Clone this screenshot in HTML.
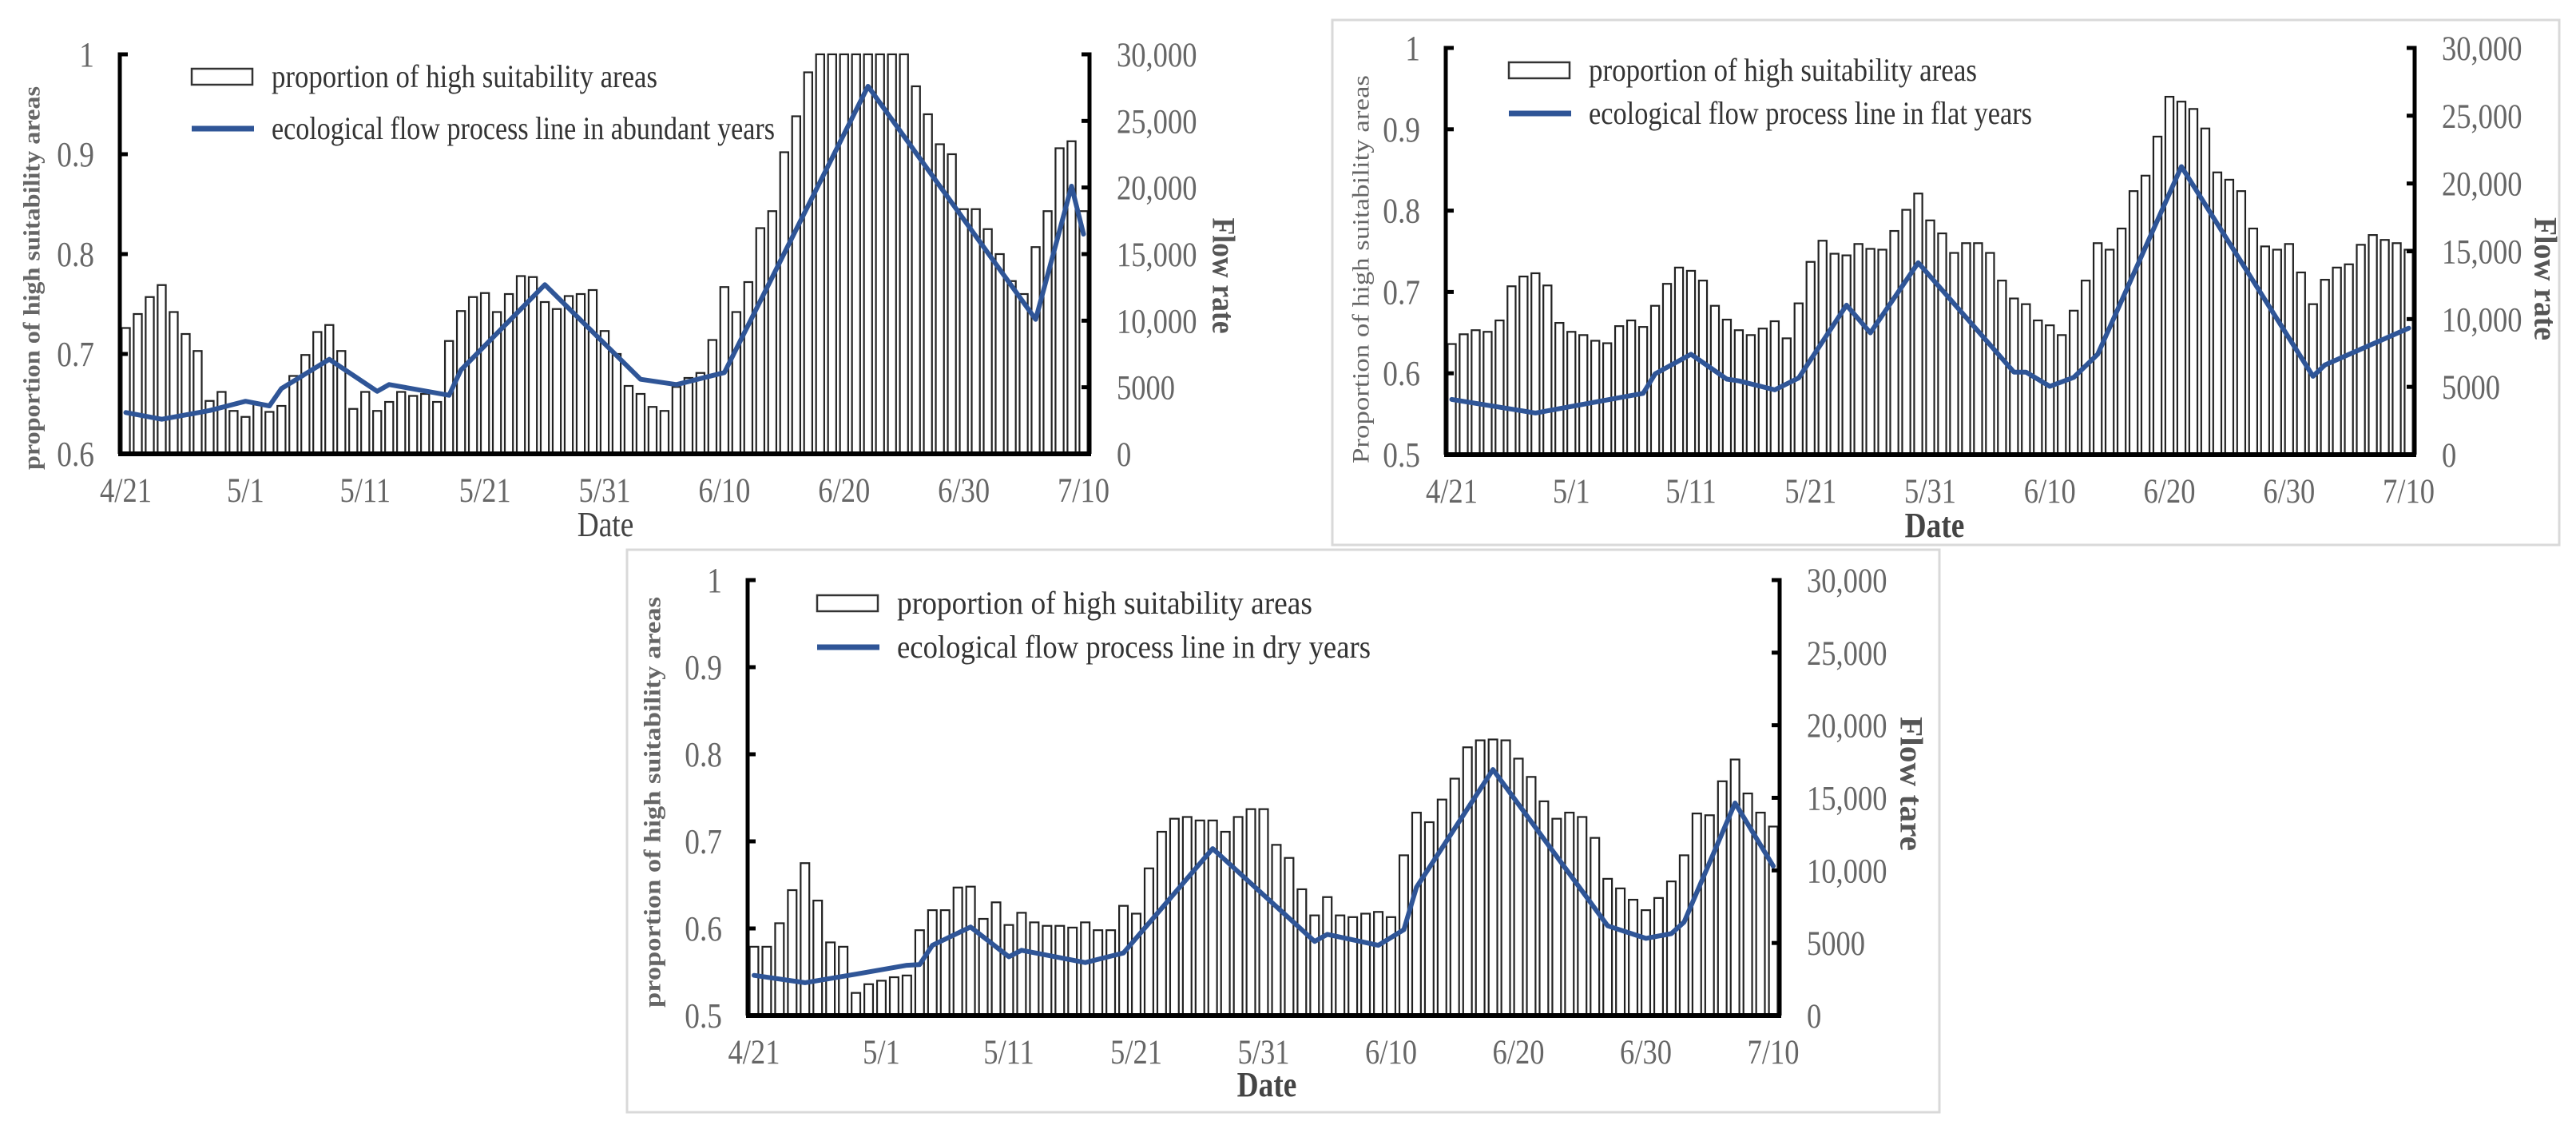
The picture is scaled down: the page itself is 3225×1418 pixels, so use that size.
<!DOCTYPE html>
<html>
<head>
<meta charset="utf-8">
<style>
  html,body{margin:0;padding:0;background:#fff;}
  svg{display:block;}
  text{font-family:"Liberation Serif","DejaVu Serif",serif;}
</style>
</head>
<body>
<svg id="chart" xmlns="http://www.w3.org/2000/svg" width="3225" height="1418" viewBox="0 0 3225 1418">
  <rect x="0" y="0" width="3225" height="1418" fill="#fff"/>
  <rect x="1668" y="25" width="1536" height="657" fill="#fff" stroke="#d9d9d9" stroke-width="3"/>
  <rect x="785" y="688" width="1643" height="704" fill="#fff" stroke="#d9d9d9" stroke-width="3"/>
</svg>
<script>
const dateLabels = ["4/21","5/1","5/11","5/21","5/31","6/10","6/20","6/30","7/10"];
const dateLabelDays = [0,10,20,30,40,50,60,70,80];
const rightTicks = [0,5000,10000,15000,20000,25000,30000];
const rightTickLabels = ["0","5000","10,000","15,000","20,000","25,000","30,000"];
const p1LeftTicks = [0.6,0.7,0.8,0.9,1];
const p1LeftTickLabels = ["0.6","0.7","0.8","0.9","1"];
const p23LeftTicks = [0.5,0.6,0.7,0.8,0.9,1];
const p23LeftTickLabels = ["0.5","0.6","0.7","0.8","0.9","1"];

const p1Bars = [0.726,0.74,0.757,0.769,0.742,0.72,0.703,0.653,0.662,0.643,
 0.637,0.65,0.642,0.648,0.678,0.699,0.722,0.729,0.703,0.645,
 0.662,0.643,0.652,0.662,0.658,0.66,0.652,0.713,0.743,0.757,
 0.761,0.742,0.76,0.778,0.777,0.752,0.745,0.758,0.76,0.764,
 0.723,0.7,0.668,0.66,0.647,0.643,0.667,0.676,0.681,0.714,
 0.767,0.742,0.772,0.826,0.843,0.902,0.938,0.982,1,1,
 1,1,1,1,1,1,0.968,0.94,0.91,0.9,
 0.845,0.845,0.825,0.8,0.773,0.76,0.807,0.843,0.906,0.913,0.843];
const p1FlowDays = [0,3,7,10,12,13,17,21,22,27,28,35,43,46,50,62,76,79,80];
const p1FlowVals = [3100,2600,3250,3950,3600,4900,7100,4700,5200,4400,6300,12700,5600,5200,6100,27600,10100,20100,16500];

const p2Bars = [0.636,0.648,0.653,0.651,0.665,0.707,0.719,0.723,0.708,0.662,
 0.651,0.647,0.640,0.637,0.658,0.665,0.657,0.683,0.710,0.730,
 0.726,0.714,0.683,0.666,0.653,0.647,0.655,0.664,0.643,0.686,
 0.737,0.763,0.747,0.745,0.759,0.753,0.752,0.775,0.801,0.821,
 0.788,0.772,0.748,0.760,0.760,0.748,0.714,0.692,0.685,0.665,
 0.659,0.647,0.677,0.714,0.760,0.752,0.778,0.824,0.843,0.891,
 0.940,0.934,0.925,0.901,0.847,0.838,0.824,0.778,0.756,0.752,
 0.759,0.724,0.685,0.715,0.730,0.734,0.758,0.770,0.764,0.760,0.752];
const p2FlowDays = [0,7,16,17,20,23,24,27,29,33,35,39,47,48,50,52,54,61,72,73,80];
const p2FlowVals = [4070,3070,4520,5960,7400,5570,5440,4780,5650,11030,8980,14160,6090,6090,5040,5700,7400,21250,5780,6620,9330];

const p3Bars = [0.579,0.579,0.606,0.644,0.675,0.632,0.584,0.579,0.526,0.536,
 0.540,0.544,0.546,0.598,0.621,0.621,0.647,0.648,0.611,0.630,
 0.604,0.618,0.607,0.603,0.603,0.601,0.607,0.598,0.598,0.626,
 0.617,0.669,0.711,0.726,0.728,0.724,0.724,0.711,0.728,0.737,
 0.737,0.696,0.681,0.645,0.615,0.636,0.615,0.613,0.617,0.619,
 0.613,0.684,0.733,0.722,0.748,0.772,0.808,0.816,0.817,0.816,
 0.795,0.774,0.746,0.726,0.733,0.728,0.704,0.657,0.646,0.633,
 0.621,0.635,0.654,0.684,0.732,0.730,0.769,0.794,0.755,0.733,0.717];
const p3FlowDays = [0,4,8,12,13,14,17,20,21,26,29,36,44,45,49,51,52,58,67,70,72,73,77,80];
const p3FlowVals = [2770,2260,2850,3460,3510,4840,6100,4050,4500,3650,4310,11500,5110,5590,4840,5910,8840,16950,6180,5320,5640,6440,14640,10300];

const NS = "http://www.w3.org/2000/svg";
const svg = document.getElementById("chart");
function mk(tag, attrs, parent){
  const e = document.createElementNS(NS, tag);
  for (const k in attrs) e.setAttribute(k, attrs[k]);
  (parent || svg).appendChild(e);
  return e;
}

function drawPanel(c){
  const g = mk("g", {});
  
  
  const n = c.bars.length;
  const slot = (c.x1 - c.x0) / n;
  const xC = d => c.x0 + slot * (d + 0.5);
  const yL = v => c.y1 - (v - c.lmin) / (c.lmax - c.lmin) * (c.y1 - c.y0);
  const yR = v => c.y1 - v / 30000 * (c.y1 - c.y0);

  const bg = mk("g", {}, g);
  
  
  const bw = slot * 0.68;
  c.bars.forEach((v, i) => {
    const yt = yL(v);
    const r = mk("rect", {x: xC(i) - bw/2, y: yt, width: bw, height: c.y1 - yt, fill: "#fff", stroke: "#222", "stroke-width": 2.2}, bg);
    
    
  });

  const pts = c.flowDays.map((d, i) => xC(d).toFixed(1) + "," + yR(c.flowVals[i]).toFixed(1)).join(" ");
  const pl = mk("polyline", {points: pts, fill: "none", stroke: "#2f5597", "stroke-width": 6, "stroke-linejoin": "round", "stroke-linecap": "round"}, g);
  
  

  const la = mk("path", {d: `M${c.x0+10},${c.y0} H${c.x0} V${c.y1}`, fill: "none", stroke: "#000", "stroke-width": 5}, g);
  
  
  const ra = mk("path", {d: `M${c.x1-10},${c.y0} H${c.x1} V${c.y1}`, fill: "none", stroke: "#000", "stroke-width": 5}, g);
  
  
  const xa = mk("line", {x1: c.x0-2, y1: c.y1, x2: c.x1+2, y2: c.y1, stroke: "#000", "stroke-width": 6}, g);
  
  

  c.leftTicks.forEach((v, i) => {
    const y = yL(v);
    const t = mk("line", {x1: c.x0, y1: y, x2: c.x0+10, y2: y, stroke: "#000", "stroke-width": 5}, g);
    
    
    const tx = mk("text", {x: 0, y: 0, "text-anchor": "end", "font-size": 44, fill: "#666", transform: `translate(${c.x0 - 32},${y + 15}) scale(0.85,1)`}, g);
    tx.textContent = c.leftTickLabels[i];
    
    
  });
  rightTicks.forEach((v, i) => {
    const y = yR(v);
    const t = mk("line", {x1: c.x1-10, y1: y, x2: c.x1, y2: y, stroke: "#000", "stroke-width": 5}, g);
    
    
    const tx = mk("text", {x: 0, y: 0, "font-size": 43, fill: "#666", transform: `translate(${c.x1 + 34},${y + 15}) scale(0.85,1)`}, g);
    tx.textContent = rightTickLabels[i];
    
    
  });
  dateLabelDays.forEach((d, i) => {
    const tx = mk("text", {x: 0, y: 0, "text-anchor": "middle", "font-size": 43, fill: "#666", transform: `translate(${xC(d)},${c.xLabelY}) scale(0.85,1)`}, g);
    tx.textContent = dateLabels[i];
    
    
  });

  const dt = mk("text", {x: 0, y: 0, "text-anchor": "middle", "font-size": 44, fill: "#444", "font-weight": c.dateBold ? "bold" : "normal", transform: `translate(${c.dateX},${c.dateY}) scale(0.85,1)`}, g);
  dt.textContent = "Date";
  
  

  const yt = mk("text", {x: 0, y: 0, "text-anchor": "middle", "font-size": 30, fill: "#666", "font-weight": c.yBold ? "bold" : "normal",
    textLength: c.yLen, lengthAdjust: "spacingAndGlyphs", transform: `translate(${c.yTX},${c.yTY}) rotate(-90)`, "dominant-baseline": "central"}, g);
  yt.textContent = c.yTitle;
  
  

  const rt = mk("text", {x: 0, y: 0, "text-anchor": "middle", "font-size": 40, fill: "#555", "font-weight": "bold",
    textLength: c.rLen, lengthAdjust: "spacingAndGlyphs", transform: `translate(${c.rTX},${c.rTY}) rotate(90)`, "dominant-baseline": "central"}, g);
  rt.textContent = c.rTitle;
  
  

  const lg = mk("g", {}, g);
  
  
  const lb = mk("rect", {x: c.legX, y: c.legY1 - 10, width: 76, height: 20, fill: "#fff", stroke: "#333", "stroke-width": 2.5}, lg);
  
  
  const lt1 = mk("text", {x: c.legX + 100, y: c.legY1 + 13, "font-size": 40, fill: "#333", textLength: c.leg1Len, lengthAdjust: "spacingAndGlyphs"}, lg);
  lt1.textContent = "proportion of high suitability areas";
  
  
  const ll = mk("line", {x1: c.legX, y1: c.legY2, x2: c.legX + 78, y2: c.legY2, stroke: "#2f5597", "stroke-width": 7}, lg);
  
  
  const lt2 = mk("text", {x: c.legX + 100, y: c.legY2 + 13, "font-size": 40, fill: "#333", textLength: c.leg2Len, lengthAdjust: "spacingAndGlyphs"}, lg);
  lt2.textContent = c.leg2;
  
  
}

drawPanel({id: "abundant", x0: 150, x1: 1364, y0: 68, y1: 568, lmin: 0.6, lmax: 1,
  bars: p1Bars, flowDays: p1FlowDays, flowVals: p1FlowVals,
  leftTicks: p1LeftTicks, leftTickLabels: p1LeftTickLabels, xLabelY: 628,
  dateX: 758, dateY: 671, dateBold: false,
  yTitle: "proportion of high suitability areas", yBold: true, yTX: 40, yTY: 348, yLen: 480,
  rTitle: "Flow rate", rTX: 1532, rTY: 345, rLen: 145,
  legX: 240, legY1: 96, legY2: 161, leg1Len: 483, leg2: "ecological flow process line in abundant years", leg2Len: 630});

drawPanel({id: "flat", x0: 1810, x1: 3023, y0: 60, y1: 569, lmin: 0.5, lmax: 1,
  bars: p2Bars, flowDays: p2FlowDays, flowVals: p2FlowVals,
  leftTicks: p23LeftTicks, leftTickLabels: p23LeftTickLabels, xLabelY: 629,
  dateX: 2422, dateY: 672, dateBold: true,
  yTitle: "Proportion of high suitability areas", yBold: false, yTX: 1704, yTY: 337, yLen: 486,
  rTitle: "Flow rate", rTX: 3187, rTY: 349, rLen: 154,
  legX: 1889, legY1: 88, legY2: 142, leg1Len: 486, leg2: "ecological flow process line in flat years", leg2Len: 555});

drawPanel({id: "dry", x0: 936, x1: 2228, y0: 726, y1: 1271, lmin: 0.5, lmax: 1,
  bars: p3Bars, flowDays: p3FlowDays, flowVals: p3FlowVals,
  leftTicks: p23LeftTicks, leftTickLabels: p23LeftTickLabels, xLabelY: 1331,
  dateX: 1586, dateY: 1372, dateBold: true,
  yTitle: "proportion of high suitability areas", yBold: true, yTX: 817, yTY: 1004, yLen: 514,
  rTitle: "Flow tare", rTX: 2393, rTY: 981, rLen: 168,
  legX: 1023, legY1: 755, legY2: 810, leg1Len: 520, leg2: "ecological flow process line in dry years", leg2Len: 593});
</script>
</body>
</html>
